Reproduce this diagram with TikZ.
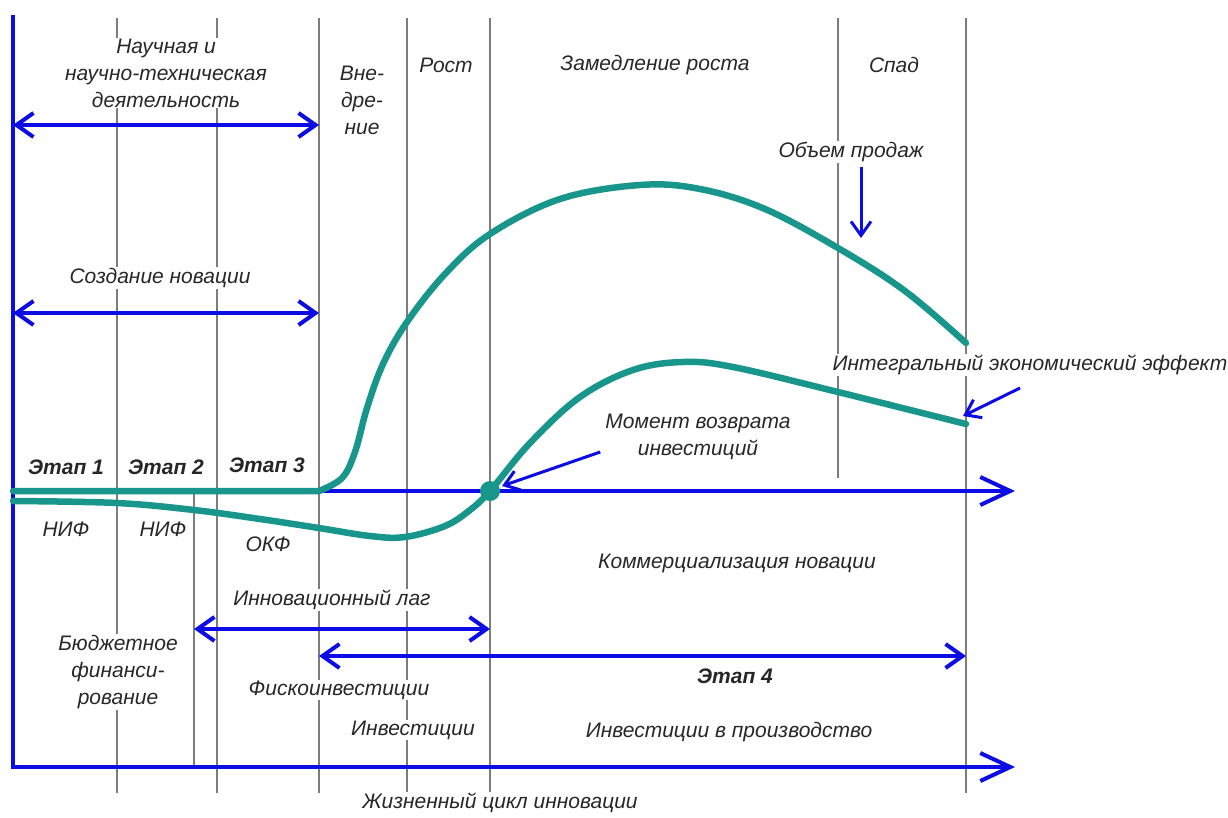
\documentclass[tikz,border=0pt]{standalone}
\usepackage{fontspec}
\setmainfont{Liberation Sans}
\usepackage{xcolor}
\usepackage{tikz}
\usetikzlibrary{arrows.meta}
\definecolor{axisblue}{RGB}{12,12,228}
\definecolor{curveteal}{RGB}{24,150,140}
\definecolor{gridgray}{RGB}{125,125,125}
\definecolor{txtgray}{RGB}{40,40,40}
\tikzset{
  phase/.style={draw=gridgray, line width=1.4pt},
  axis/.style={draw=axisblue, line width=4pt, -{Straight Barb[length=30pt,width=28pt]}},
  span/.style={draw=axisblue, line width=4pt, {Straight Barb[length=17pt,width=24pt]}-{Straight Barb[length=17pt,width=24pt]}},
  pointer/.style={draw=axisblue, line width=3pt, -{Straight Barb[length=14pt,width=20pt]}},
  curve/.style={draw=curveteal, line width=6.5pt, line cap=round},
  lbl/.style={text=txtgray, font=\fontsize{21}{27}\selectfont\itshape, fill=white, inner sep=1pt, align=center},
  stage/.style={lbl, font=\fontsize{21}{27}\selectfont\itshape\bfseries, text=black!85},
}

\begin{document}
\begin{tikzpicture}[x=1pt,y=-1pt]
\useasboundingbox (0,0) rectangle (1228,817);

\foreach \x in {117,217,319,407,490,966}
  \draw[phase] (\x,18) -- (\x,793);
\draw[phase] (194,493) -- (194,765);
\draw[phase] (838,18) -- (838,478);

\node[lbl] (sci) at (166,73) {Научная и\\научно-техническая\\деятельность};
\node[lbl] (create) at (160,278) {Создание новации};
\node[lbl] (impl) at (362,100) {Вне-\\дре-\\ние};
\node[lbl] (growth) at (446,65) {Рост};
\node[lbl] (slow) at (655,65) {Замедление роста};
\node[lbl] (decline) at (894,65) {Спад};
\node[lbl] (sales) at (851,152) {Объем продаж};
\node[lbl] (effect) at (1030,365) {Интегральный экономический эффект};
\node[lbl] (payback) at (698,437) {Момент возврата\\инвестиций};
\node[stage] (st1) at (66,467) {Этап 1};
\node[stage] (st2) at (166,467) {Этап 2};
\node[stage] (st3) at (267,465) {Этап 3};
\node[lbl] (nif1) at (66,529) {НИФ};
\node[lbl] (nif2) at (163,529) {НИФ};
\node[lbl] (okf) at (268,544) {ОКФ};
\node[lbl] (comm) at (737,563) {Коммерциализация новации};
\node[lbl] (lag) at (332,600) {Инновационный лаг};
\node[lbl] (budget) at (118,672) {Бюджетное\\финанси-\\рование};
\node[lbl] (fisc) at (339,690) {Фискоинвестиции};
\node[stage] (st4) at (735,676) {Этап 4};
\node[lbl] (inv) at (413,730) {Инвестиции};
\node[lbl] (invprod) at (729,732) {Инвестиции в производство};
\node[lbl] (life) at (500,803) {Жизненный цикл инновации};

\coordinate (top) at (13,15);
\coordinate (xend) at (1015,767);
\coordinate (m0) at (13,491);
\coordinate (mend) at (1015,491);
\coordinate (pb) at (490,491);
\coordinate (sciL) at (13,125);
\coordinate (sciR) at (319,125);
\coordinate (crL) at (13,313);
\coordinate (crR) at (319,313);
\coordinate (lagL) at (194,629);
\coordinate (lagR) at (490,629);
\coordinate (st4L) at (319,656);
\coordinate (st4R) at (966,656);
\coordinate (salesTip) at (861,238);
\coordinate (pbTip) at (502,486);
\coordinate (effTip) at (963,416);

\draw[axis] (top) |- (xend);
\draw[axis] (m0) -- (mend);

\draw[curve] (13,491) -- plot[smooth,tension=0.6] coordinates {(319,491) (342,478) (355,452) (367,408) (383,364) (407,322) (445,274) (490,234) (560,199) (640,185) (700,189) (765,209) (838,248) (905,291) (966,343)};
\draw[curve] plot[smooth,tension=0.6] coordinates {(13,501) (117,503) (194,510) (260,519) (319,528) (370,536) (405,537) (445,526) (470,510) (490,491) (530,443) (580,397) (633,370) (683,362) (733,367) (838,392) (966,424)};
\fill[curveteal] (pb) circle (10);

\draw[span] (sciL) -- (sciR);
\draw[span] (crL) -- (crR);
\draw[span] (lagL) -- (lagR);
\draw[span] (st4L) -- (st4R);

\draw[pointer] (sales.south -| salesTip) ++(0,4) -- (salesTip);
\draw[pointer] (payback.west |- 0,452) ++(-4,0) -- (pbTip);
\draw[pointer] (1020,388) -- (effTip);
\end{tikzpicture}
\end{document}
